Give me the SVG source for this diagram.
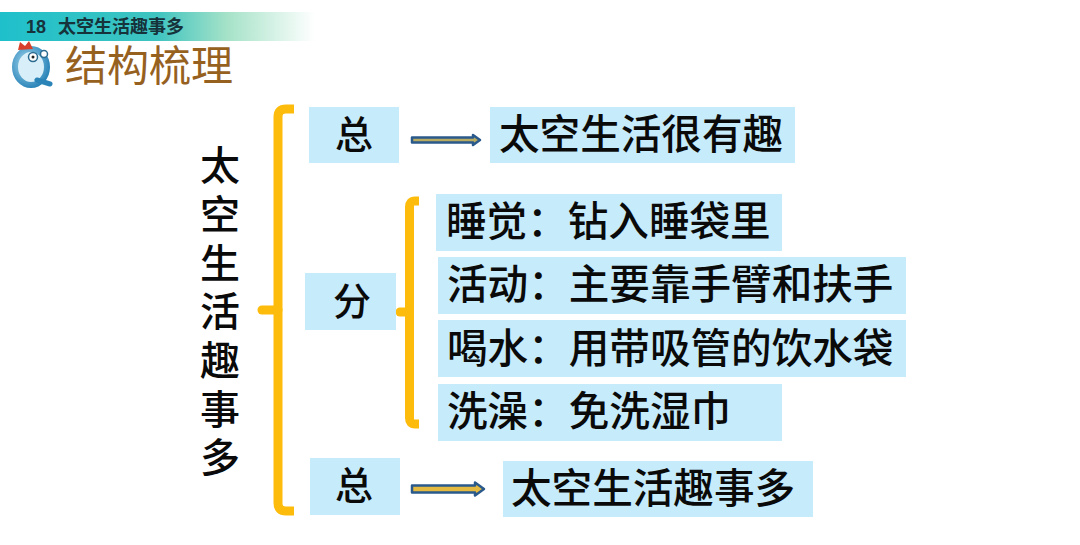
<svg xmlns="http://www.w3.org/2000/svg" width="1080" height="545" viewBox="0 0 1080 545">
<defs>
<linearGradient id="band" x1="0" x2="1" y1="0" y2="0"><stop offset="0" stop-color="#1fc0cb"/><stop offset="0.5" stop-color="#3fc4c0"/><stop offset="0.72" stop-color="#a5e2c8"/><stop offset="1" stop-color="#ffffff"/></linearGradient>
<radialGradient id="q" cx="0.4" cy="0.4" r="0.7"><stop offset="0" stop-color="#a9dcf2"/><stop offset="1" stop-color="#2b84b8"/></radialGradient>
</defs>
<style>
.box{fill:#c6ebfb}
.t{font-family:"Noto Sans CJK SC","Liberation Sans",sans-serif;font-weight:500;fill:#0a0a0a;font-size:40.6px}
.s{font-size:38px}
.br{fill:none;stroke:#fdbb0b;stroke-width:9;stroke-linejoin:round}
.nub{fill:none;stroke:#fdbb0b;stroke-width:9;stroke-linecap:round}
.ar{stroke:#2a5a8c;stroke-width:2.5;stroke-linejoin:round}
</style>
<rect width="1080" height="545" fill="#fff"/>
<g id="header">
<rect x="0" y="12" width="315" height="29" fill="url(#band)"/>
<text x="26" y="33" font-family="'Liberation Sans',sans-serif" font-weight="700" font-size="18" fill="#16323a">18</text>
<text x="58" y="33" font-family="'Noto Sans CJK SC',sans-serif" font-weight="700" font-size="18" fill="#16323a">太空生活趣事多</text>
</g>
<g id="title">
<ellipse cx="31" cy="67" rx="16" ry="18" fill="#d8eef8" stroke="url(#q)" stroke-width="6"/>
<path d="M37 80L50 84" stroke="#2b84b8" stroke-width="5" stroke-linecap="round"/>
<path d="M18 50L20 42L25 46L29 41L33 49Z" fill="#d8402a"/>
<circle cx="33" cy="57" r="4.5" fill="#fff" stroke="#2b6b90" stroke-width="1.5"/>
<circle cx="33" cy="57" r="1.5" fill="#222"/>
<circle cx="44" cy="54" r="3.5" fill="#fff" stroke="#2b6b90" stroke-width="1.5"/>
<text x="65" y="81" font-family="'Noto Sans CJK SC',sans-serif" font-size="42" fill="#96611f">结构梳理</text>
</g>
<g id="root">
<text class="t" x="220" y="145" style="writing-mode:vertical-rl;letter-spacing:8.700px;font-size:40px">太空生活趣事多</text>
</g>
<g id="connectors">
<path class="br" d="M294 109H286Q278 109 278 117V503Q278 511 286 511H294"/>
<path class="nub" d="M262 310H278"/>
<path class="br" d="M419 201H415Q409.500 201 409.500 207V418Q409.500 424 415 424H419"/>
<path class="nub" d="M400 312H409"/>
<path class="ar" fill="#b7ab62" d="M412 137.500H473V135L480 140L473 145V142.500H412Z"/>
<path class="ar" fill="#e3ba3f" d="M412 485.500H475V482.500L484 489L475 495.500V492.500H412Z"/>
</g>
<g id="n1"><rect class="box" x="309" y="107" width="90" height="56"/><text class="t s" x="354" y="148" text-anchor="middle">总</text></g>
<g id="n2"><rect class="box" x="490" y="107" width="305" height="56"/><text class="t" x="499" y="149">太空生活很有趣</text></g>
<g id="n3"><rect class="box" x="305" y="273" width="91" height="57"/><text class="t s" x="352" y="315" text-anchor="middle">分</text></g>
<g id="n4"><rect class="box" x="436" y="194" width="346" height="57"/><text class="t" x="446" y="236">睡觉：钻入睡袋里</text></g>
<g id="n5"><rect class="box" x="438" y="257" width="468" height="57"/><text class="t" x="447" y="299">活动：主要靠手臂和扶手</text></g>
<g id="n6"><rect class="box" x="438" y="320" width="468" height="57"/><text class="t" x="447" y="363">喝水：用带吸管的饮水袋</text></g>
<g id="n7"><rect class="box" x="438" y="384" width="344" height="57"/><text class="t" x="447" y="426">洗澡：免洗湿巾</text></g>
<g id="n8"><rect class="box" x="310" y="458" width="90" height="57"/><text class="t s" x="354" y="499" text-anchor="middle">总</text></g>
<g id="n9"><rect class="box" x="503" y="461" width="310" height="56"/><text class="t" x="511" y="503">太空生活趣事多</text></g>
</svg>
